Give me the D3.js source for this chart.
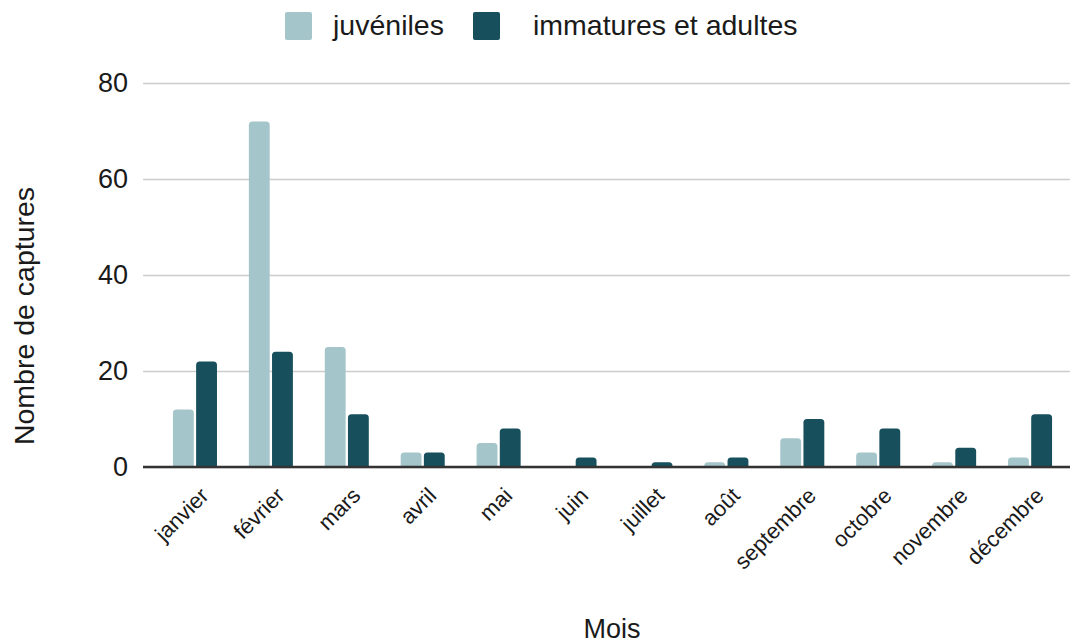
<!DOCTYPE html>
<html>
<head>
<meta charset="utf-8">
<script src="https://cdn.jsdelivr.net/npm/d3@7"></script>
<style>
  html, body { margin: 0; padding: 0; background: #fff; }
  svg { display: block; font-family: "Liberation Sans", Arial, sans-serif; }
</style>
</head>
<body>
<svg id="chart" width="1071" height="644"></svg>
<script>
// Monthly capture counts
const months = ["janvier", "février", "mars", "avril", "mai", "juin", "juillet", "août", "septembre", "octobre", "novembre", "décembre"];
const juveniles = [12, 72, 25, 3, 5, 0, 0, 1, 6, 3, 1, 2];
const adultes = [22, 24, 11, 3, 8, 2, 1, 2, 10, 8, 4, 11];
const seriesNames = ["juvéniles", "immatures et adultes"];
const seriesColors = ["#a4c5ca", "#174f5d"];
const yTicks = [0, 20, 40, 60, 80];

const svg = d3.select("#chart");
const plot = { left: 143, right: 1070, top: 83, bottom: 467 };
const textColor = "#1a1a1a";
const fontFamily = "Liberation Sans, Arial, sans-serif";

const x = d3.scaleBand().domain(months).range([157, 1068]).paddingInner(0.42).paddingOuter(0.21);
const inner = d3.scaleBand().domain([0, 1]).range([0, x.bandwidth()]).paddingInner(0.1);
const y = d3.scaleLinear().domain([0, 80]).range([plot.bottom, plot.top]);

// Gridlines and y labels
const yAxis = d3.axisLeft(y).tickValues(yTicks).tickSize(-(plot.right - plot.left)).tickPadding(15);
const gy = svg.append("g").attr("transform", `translate(${plot.left},0)`).call(yAxis);
gy.select(".domain").remove();
gy.selectAll(".tick line").attr("stroke", "#cccccc").attr("stroke-width", 1.5);
gy.selectAll(".tick text").attr("font-size", 27).attr("fill", textColor).attr("font-family", fontFamily);

// Bars with rounded tops
function barPath(x0, w, yTop, yBase, r) {
  const h = yBase - yTop;
  const rr = Math.min(r, h, w / 2);
  return `M${x0},${yBase}V${yTop + rr}Q${x0},${yTop} ${x0 + rr},${yTop}H${x0 + w - rr}Q${x0 + w},${yTop} ${x0 + w},${yTop + rr}V${yBase}Z`;
}
const data = months.map((m, i) => ({ m, vals: [juveniles[i], adultes[i]] }));
const groups = svg.append("g").selectAll("g").data(data).join("g")
  .attr("transform", d => `translate(${x(d.m)},0)`);
groups.selectAll("path").data(d => d.vals.map((v, k) => ({ v, k })).filter(e => e.v > 0)).join("path")
  .attr("d", e => barPath(inner(e.k), inner.bandwidth(), y(e.v), y(0), 3.5))
  .attr("fill", e => seriesColors[e.k]);

// Baseline
svg.append("line").attr("x1", plot.left).attr("x2", plot.right).attr("y1", y(0)).attr("y2", y(0))
  .attr("stroke", "#333").attr("stroke-width", 2.5);

// X labels, rotated
const xAxis = d3.axisBottom(x).tickSize(0).tickPadding(0);
const gx = svg.append("g").attr("transform", `translate(0,${plot.bottom})`).call(xAxis);
gx.select(".domain").remove();
gx.selectAll(".tick text")
  .attr("font-size", 22).attr("fill", textColor).attr("font-family", fontFamily)
  .attr("text-anchor", "end").attr("dy", null).attr("y", 0)
  .attr("transform", "translate(15,30) rotate(-45)");

// Axis titles
svg.append("text").attr("x", 612).attr("y", 638).attr("text-anchor", "middle")
  .attr("font-size", 27).attr("fill", textColor).text("Mois");
svg.append("text").attr("transform", "translate(34,316) rotate(-90)").attr("text-anchor", "middle")
  .attr("font-size", 28.5).attr("fill", textColor).text("Nombre de captures");

// Legend
const legendX = [285, 473];
const lg = svg.append("g").selectAll("g").data(seriesNames).join("g")
  .attr("transform", (d, i) => `translate(${legendX[i]},12)`);
lg.append("rect").attr("width", 27).attr("height", 28).attr("rx", 2).attr("fill", (d, i) => seriesColors[i]);
lg.append("text").attr("x", (d, i) => i === 0 ? 48 : 60).attr("y", 23)
  .attr("font-size", 28.5).attr("fill", textColor).text(d => d);
</script>
</body>
</html>
